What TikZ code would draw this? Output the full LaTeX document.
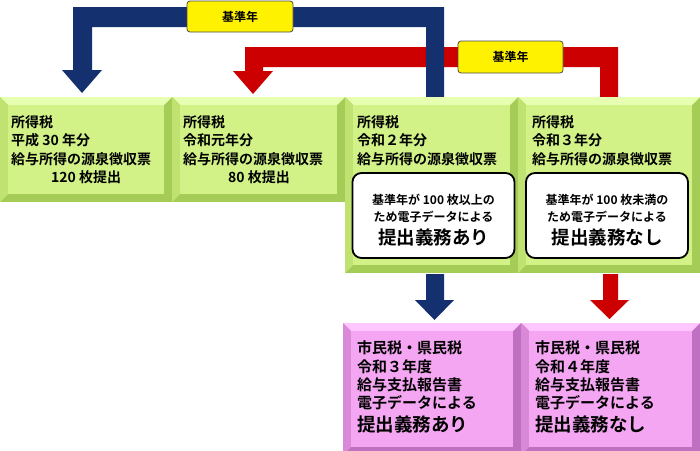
\documentclass[tikz,border=0pt]{standalone}
\usepackage{fontspec}
\setmainfont{Noto Sans CJK JP}[BoldFont={Noto Sans CJK JP Bold}]
\newfontfamily\jpb{Noto Sans CJK JP Bold}
\definecolor{gface}{HTML}{D2F288}
\definecolor{glight}{HTML}{E6FFB0}
\definecolor{gdark}{HTML}{A6CC58}
\definecolor{gmid}{HTML}{BFE270}
\definecolor{pface}{HTML}{F4A6F2}
\definecolor{plight}{HTML}{FFC6FF}
\definecolor{pdark}{HTML}{C070C0}
\definecolor{pmid}{HTML}{DA88D8}
\definecolor{navy}{HTML}{15306E}
\definecolor{myred}{HTML}{CC0000}
\newcommand\bevbox[8]{% x1 y1 x2 y2 face light mid dark
  \fill[#8] (#1,#2) rectangle (#3,#4);
  \fill[#6] (#1,#2) -- (#3,#2) -- (#3-8,#2+8) -- (#1+8,#2+8) -- cycle;
  \fill[#7] (#1,#2) -- (#1+8,#2+8) -- (#1+8,#4-8) -- (#1,#4) -- cycle;
  \fill[#5] (#1+8,#2+8) rectangle (#3-8,#4-8);}
\tikzset{
  txt/.style={anchor=west,inner sep=0pt,font=\jpb\fontsize{14}{14}\selectfont},
  wtxt/.style={anchor=center,inner sep=0pt,font=\jpb\fontsize{12}{12}\selectfont},
  btxt/.style={anchor=center,inner sep=0pt,font=\jpb\fontsize{18.5}{18.5}\selectfont},
  ptxt/.style={anchor=west,inner sep=0pt,font=\jpb\fontsize{15}{15}\selectfont},
  pbig/.style={anchor=west,inner sep=0pt,font=\jpb\fontsize{18.5}{18.5}\selectfont},
  wbox/.style={draw=black,line width=1.8pt,fill=white,rounded corners=9pt},
  ybox/.style={draw=black!70,line width=0.8pt,fill=yellow,rounded corners=3pt,inner sep=0pt,font=\jpb\fontsize{12}{12}\selectfont}
}
\begin{document}
\begin{tikzpicture}[x=1pt,y=-1pt]
\useasboundingbox (0,0) rectangle (700,450);
\fill[white] (0,0) rectangle (700,450);
% red arrow
\fill[myred] (618,98) -- (618,47) -- (245,47) -- (245,71) -- (233,71) -- (253,94) -- (273,71) -- (263,71) -- (263,67) -- (600,67) -- (600,98) -- cycle;
% blue arrow
\fill[navy] (444,98) -- (444,7) -- (73,7) -- (73,70) -- (62,70) -- (82,93) -- (102,70) -- (92,70) -- (92,27) -- (426,27) -- (426,98) -- cycle;
% green boxes
\bevbox{0}{97}{172}{202}{gface}{glight}{gmid}{gdark}
\bevbox{172}{97}{345}{202}{gface}{glight}{gmid}{gdark}
\bevbox{345}{97}{518}{273}{gface}{glight}{gmid}{gdark}
\bevbox{518}{97}{700}{273}{gface}{glight}{gmid}{gdark}
% lower arrows
\fill[navy] (426,274) -- (426,300) -- (415,300) -- (434.5,320) -- (454,300) -- (444,300) -- (444,274) -- cycle;
\fill[myred] (603,274) -- (603,300) -- (590,300) -- (609.5,319) -- (629,300) -- (618,300) -- (618,274) -- cycle;
% pink boxes
\bevbox{343}{323}{521}{455}{pface}{plight}{pmid}{pdark}
\bevbox{521}{323}{700}{455}{pface}{plight}{pmid}{pdark}
% labels
\node[ybox,minimum width=106pt,minimum height=31pt] (y1) at (240,16.5) {基準年};
\node[ybox,minimum width=105pt,minimum height=32pt] (y2) at (510.5,57) {基準年};
% green texts
\node[txt] (a1) at (11,122) {所得税};
\node[txt] (a2) at (11,140) {平成 30 年分};
\node[txt] (a3) at (11,159) {給与所得の源泉徴収票};
\node[txt] (a4) at (51,177) {120 枚提出};
\node[txt] (b1) at (183,122) {所得税};
\node[txt] (b2) at (183,140) {令和元年分};
\node[txt] (b3) at (183,159) {給与所得の源泉徴収票};
\node[txt] (b4) at (228,177) {80 枚提出};
\node[txt] (c1) at (357,122) {所得税};
\node[txt] (c2) at (357,140) {令和２年分};
\node[txt] (c3) at (357,159) {給与所得の源泉徴収票};
\node[txt] (d1) at (532,122) {所得税};
\node[txt] (d2) at (532,140) {令和３年分};
\node[txt] (d3) at (532,159) {給与所得の源泉徴収票};
\node[wbox,minimum width=162pt,minimum height=85pt] (w1) at (433.5,215.5) {};
\node[wbox,minimum width=162pt,minimum height=85pt] (w2) at (607,215.5) {};
\node[wtxt] (w1a) at (433.5,200) {基準年が 100 枚以上の};
\node[wtxt] (w1b) at (433.5,216.5) {ため電子データによる};
\node[btxt] (w1c) at (433.5,237) {提出義務あり};
\node[wtxt] (w2a) at (607,200) {基準年が 100 枚未満の};
\node[wtxt] (w2b) at (607,216.5) {ため電子データによる};
\node[btxt] (w2c) at (607,237) {提出義務なし};
% pink texts
\node[ptxt] (p1) at (357,348) {市民税・県民税};
\node[ptxt] (p2) at (357,367) {令和３年度};
\node[ptxt] (p3) at (357,385) {給与支払報告書};
\node[ptxt] (p4) at (357,403) {電子データによる};
\node[pbig] (p5) at (357,424) {提出義務あり};
\node[ptxt] (q1) at (535,348) {市民税・県民税};
\node[ptxt] (q2) at (535,367) {令和４年度};
\node[ptxt] (q3) at (535,385) {給与支払報告書};
\node[ptxt] (q4) at (535,403) {電子データによる};
\node[pbig] (q5) at (535,424) {提出義務なし};
\end{tikzpicture}
\end{document}
